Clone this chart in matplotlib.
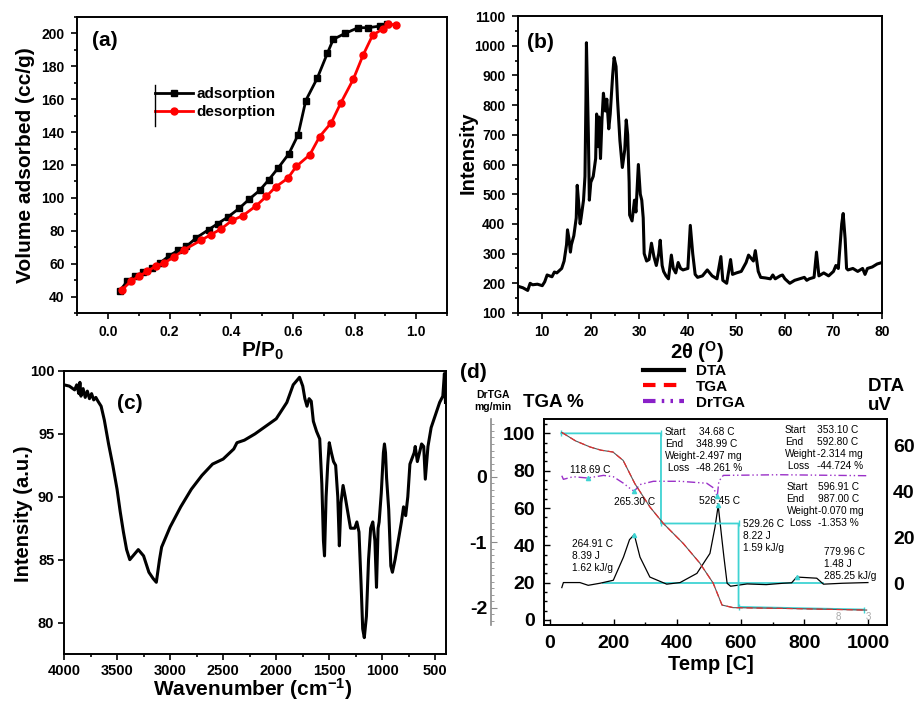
import matplotlib
matplotlib.use('Agg')
import matplotlib.pyplot as plt
from matplotlib.lines import Line2D
from matplotlib.ticker import MultipleLocator

plt.rcParams['font.family'] = ['Liberation Sans', 'DejaVu Sans']
plt.rcParams['font.weight'] = 'bold'
plt.rcParams['axes.labelweight'] = 'bold'
plt.rcParams['axes.unicode_minus'] = False
plt.rcParams['mathtext.fontset'] = 'custom'
plt.rcParams['mathtext.rm'] = 'Liberation Sans:bold'
plt.rcParams['mathtext.default'] = 'rm'
plt.rcParams['axes.linewidth'] = 1.4

# ---- (a) N2 isotherm
ads_p = [0.039, 0.063, 0.088, 0.114, 0.142, 0.169, 0.197, 0.228, 0.255, 0.286, 0.327, 0.356,
         0.389, 0.427, 0.459, 0.492, 0.522, 0.552, 0.587, 0.617, 0.642, 0.679, 0.712, 0.731,
         0.769, 0.812, 0.845, 0.883, 0.904]
ads_v = [43.6, 49.3, 52.3, 54.8, 57.4, 60.4, 64.5, 68.1, 70.5, 75.6, 80.7, 84.3,
         88.3, 93.8, 99.3, 104.5, 111.0, 118.1, 126.8, 138.3, 159.2, 172.7, 187.9, 196.4,
         200.0, 203.5, 203.5, 204.5, 205.5]
des_p = [0.935, 0.910, 0.894, 0.859, 0.828, 0.796, 0.755, 0.725, 0.687, 0.655, 0.611, 0.584,
         0.544, 0.514, 0.481, 0.438, 0.403, 0.367, 0.334, 0.302, 0.248, 0.215, 0.182, 0.155,
         0.128, 0.101, 0.074, 0.047]
des_v = [205.3, 205.5, 203.0, 199.0, 186.9, 172.1, 157.5, 145.8, 137.3, 126.2, 119.1, 112.0,
         106.6, 100.9, 95.2, 89.2, 86.3, 81.1, 77.6, 74.2, 68.5, 64.1, 60.4, 58.4,
         55.4, 52.3, 49.3, 44.2]

# ---- (b) XRD
xrd_2t = [5, 6, 7, 7.5, 8, 9, 10, 10.5, 11, 12, 12.5, 13, 14, 14.5, 15, 15.2, 15.5, 15.8, 16, 16.5,
          17, 17.2, 17.5, 17.8, 18, 18.5, 18.8, 19, 19.1, 19.3, 19.5, 19.7, 20, 20.5, 21, 21.2,
          21.5, 21.7, 22, 22.3, 22.6, 23, 23.3, 23.7, 24, 24.5, 24.8, 25.2, 25.5, 26, 26.5, 27,
          27.3, 27.6, 27.9, 28, 28.5, 29, 29.3, 29.8, 30.2, 30.5, 30.8, 31, 31.5, 32, 32.5, 33,
          33.5, 34, 34.3, 34.7, 35, 35.5, 36, 36.6, 37, 37.5, 38, 38.5, 39, 40, 40.5, 41, 41.5,
          42, 43, 44, 45, 46, 46.8, 47.2, 48, 48.8, 49.2, 50, 51, 52, 52.5, 53, 53.5, 53.9, 54.5,
          55, 56, 57, 57.5, 58, 59, 59.5, 60, 61, 62, 63, 64, 64.5, 65, 66, 66.5, 67, 68, 69, 70,
          70.5, 71, 71.7, 72, 72.4, 72.7, 73, 74, 75, 76, 76.5, 77, 78, 79, 80]
xrd_int = [190, 185, 176, 200, 195, 197, 192, 205, 228, 222, 238, 235, 250, 275, 330, 380, 350, 305,
           330, 360, 420, 530, 470, 400, 420, 480, 560, 820, 1010, 850, 700, 480, 540, 560, 620, 770,
           660, 760, 620, 750, 840, 780, 820, 720, 770, 900, 960, 930, 820, 680, 590, 650,
           750, 700, 540, 430, 410, 480, 440, 600, 500, 480, 420, 300, 275, 280, 335, 290,
           260, 300, 345, 260, 240, 225, 215, 295, 250, 235, 270, 250, 245, 250, 395, 300, 230,
           220, 225, 245, 225, 215, 290, 210, 200, 280, 230, 235, 240, 270, 295, 285, 275, 310, 240,
           220, 218, 215, 228, 215, 225, 228, 215, 200, 210, 215, 220, 210, 215, 220, 305, 225, 235, 225, 240,
           260, 250, 400, 435, 350, 250, 245, 250, 240, 250, 230, 250, 255, 265, 270]

# ---- (c) FTIR
ir_wn = [4000, 3950, 3900, 3880, 3860, 3850, 3840, 3820, 3800, 3780, 3760, 3740, 3720, 3700, 3680,
         3650, 3620, 3580, 3540, 3500, 3470, 3440, 3410, 3380, 3340, 3300, 3250, 3200, 3160, 3130,
         3100, 3080, 3050, 3000, 2900, 2800, 2700, 2600, 2500, 2450, 2400, 2370, 2300, 2200, 2100,
         2000, 1900, 1840, 1780, 1750, 1730, 1710, 1690, 1670, 1650, 1620, 1590, 1570, 1555, 1545,
         1530, 1515, 1500, 1480, 1460, 1440, 1420, 1405, 1390, 1370, 1350, 1320, 1300, 1260, 1240,
         1220, 1200, 1185, 1170, 1150, 1130, 1110, 1090, 1070, 1055, 1040, 1030, 1010, 990, 980,
         970, 960, 940, 920, 905, 880, 850, 820, 800, 780, 760, 740, 700, 690, 670, 650, 630, 610,
         595, 570, 540, 500, 460, 430, 415, 405]
ir_t = [98.9, 98.8, 98.5, 98.9, 98.2, 99.1, 98.0, 98.6, 97.9, 98.4, 97.8, 98.2, 97.7, 97.9, 97.6,
        97.2, 96.1, 94.2, 92.5, 90.6, 88.8, 87.2, 85.8, 85.0, 85.4, 85.8, 85.3, 84.0, 83.5, 83.2,
        85.0, 86.0, 86.6, 87.6, 89.2, 90.6, 91.7, 92.6, 93.0, 93.4, 93.8, 94.3, 94.5, 95.0, 95.6,
        96.2, 97.5, 98.9, 99.5, 98.8, 97.8, 97.2, 97.8, 97.6, 96.0, 95.2, 94.6, 91.0, 86.5, 85.3,
        90.0, 92.5, 94.3, 93.5, 92.8, 92.5, 90.0, 86.1, 89.5, 90.9, 90.0, 88.5, 87.5, 87.5, 88.0,
        87.2, 83.0, 79.5, 78.8, 80.5, 85.0, 87.5, 88.0, 86.5, 82.8, 87.5, 88.0, 90.3, 93.5, 94.2,
        93.5, 91.5, 89.0, 84.5, 84.0, 85.0, 86.5, 88.0, 89.2, 88.5, 90.0, 92.6, 93.5, 94.0, 92.8,
        93.5, 94.2, 94.0, 91.4, 94.0, 95.5, 96.5, 97.5, 98.0, 99.8, 97.5]

# ---- (d) thermal analysis
tga_T = [37, 80, 126, 160, 198, 230, 267, 314, 356, 419, 471, 513, 541, 576, 650, 733, 850, 996]
tga_w = [100.5, 96.0, 92.7, 91.0, 90.0, 85.5, 73.0, 60.6, 51.8, 41.0, 30.5, 19.8, 8.0, 6.6, 6.4, 6.2, 5.8, 5.3]
dta_T = [37, 42, 94, 120, 157, 199, 231, 250, 265, 283, 314, 367, 409, 462, 503, 519, 529, 540,
         547, 557, 568, 620, 680, 733, 760, 776, 839, 860, 920, 1000]
dta_v = [-1.9, 0.3, 0.3, -0.9, 0.0, 1.3, 11.4, 19.0, 21.2, 11.4, 2.7, -0.4, 0.3, 4.3, 13.0, 24.5,
         33.9, 20.0, 11.4, 0.0, -1.3, -0.3, -0.6, 0.0, 0.2, 2.7, 2.2, -0.4, 0.0, 0.3]
drtga_T = [37, 42, 73, 118, 168, 199, 231, 257, 265, 283, 325, 409, 493, 514, 526, 531, 545, 723, 1000]
drtga_v = [0.015, -0.04, 0.0, -0.02, 0.02, 0.0, -0.1, -0.2, -0.22, -0.12, -0.07, -0.07, -0.1, -0.17,
           -0.3, -0.07, 0.02, 0.03, 0.015]
step_T = [35, 349, 349, 593, 593, 987]
step_w = [100, 100, 51.7, 51.7, 7.0, 5.6]
base_T = [168, 859]
base_v = [0, 0]

W, H = 917, 704
fig = plt.figure(figsize=(W / 100, H / 100), dpi=100)


def box(l, t, r, b):
    return [l / W, 1 - b / H, (r - l) / W, (b - t) / H]


def origin_ticks(ax, size, pad):
    ax.tick_params(which='both', direction='out', top=False, right=False,
                   labelsize=size, pad=pad, width=1.2)
    ax.tick_params(which='major', length=4)
    ax.tick_params(which='minor', length=2.5)


# (a)
ax = fig.add_axes(box(77, 17, 447, 313))
ax.plot(ads_p, ads_v, '-s', color='black', lw=2, ms=5, label='adsorption')
ax.plot(des_p, des_v, '-o', color='red', lw=2, ms=5, label='desorption')
ax.set_xlim(-0.1, 1.1)
ax.set_ylim(30, 210)
ax.xaxis.set_minor_locator(MultipleLocator(0.1))
ax.yaxis.set_major_locator(MultipleLocator(20))
ax.yaxis.set_minor_locator(MultipleLocator(10))
ax.set_xticks([0, 0.2, 0.4, 0.6, 0.8, 1.0], ['0.0', '0.2', '0.4', '0.6', '0.8', '1.0'])
origin_ticks(ax, 10, 5)
ax.set_ylabel('Volume adsorbed (cc/g)', fontsize=15)
ax.yaxis.set_label_coords(-0.114, 0.5)
ax.set_xlabel('P/P$_0$', fontsize=15)
ax.xaxis.set_label_coords(0.503, -0.091)
ax.text(0.04, 0.92, '(a)', transform=ax.transAxes, fontsize=15, va='center')
ax.legend(loc='upper left', bbox_to_anchor=(155 / W, 1 - 87 / H), bbox_transform=fig.transFigure,
          frameon=False, fontsize=11, handlelength=2.5, handletextpad=0.2, labelspacing=0.26,
          borderpad=0, borderaxespad=0)
fig.add_artist(Line2D([155 / W, 155 / W], [1 - 85 / H, 1 - 126 / H], color='black', lw=1))

# (b)
ax = fig.add_axes(box(518, 16, 882, 313))
ax.plot(xrd_2t, xrd_int, color='black', lw=2.2)
ax.set_xlim(5, 80)
ax.set_ylim(100, 1100)
ax.xaxis.set_major_locator(MultipleLocator(10))
ax.xaxis.set_minor_locator(MultipleLocator(5))
ax.yaxis.set_major_locator(MultipleLocator(100))
ax.yaxis.set_minor_locator(MultipleLocator(50))
origin_ticks(ax, 10, 5)
ax.set_ylabel('Intensity', fontsize=14.5)
ax.yaxis.set_label_coords(-0.110, 0.54)
ax.set_xlabel('2θ ($^{O}$)', fontsize=14.5)
ax.xaxis.set_label_coords(0.492, -0.088)
ax.text(0.025, 0.911, '(b)', transform=ax.transAxes, fontsize=15, va='center')

# (c)
ax = fig.add_axes(box(64, 371, 446, 654))
ax.plot(ir_wn, ir_t, color='black', lw=2.2)
ax.set_xlim(4000, 400)
ax.set_ylim(77.5, 100)
ax.xaxis.set_major_locator(MultipleLocator(500))
ax.xaxis.set_minor_locator(MultipleLocator(250))
ax.yaxis.set_major_locator(MultipleLocator(5))
origin_ticks(ax, 10.5, 3)
ax.set_ylabel('Intensity (a.u.)', fontsize=14.5)
ax.yaxis.set_label_coords(-0.081, 0.494)
ax.set_xlabel('Wavenumber (cm$^{-1}$)', fontsize=15)
ax.xaxis.set_label_coords(0.493, -0.078)
ax.text(0.139, 0.886, '(c)', transform=ax.transAxes, fontsize=15, va='center')

# (d)
cyan = '#3fd3d3'
ax = fig.add_axes(box(544, 419, 887, 625))
ax_dr = ax.twinx()
ax_dta = ax.twinx()
ax.set_zorder(3)
ax.patch.set_visible(False)

ax.plot(step_T, step_w, color=cyan, lw=1.3)
ax.plot(step_T, step_w, ls='none', marker='|', color=cyan, ms=5)
ax.plot(tga_T, tga_w, color='#555555', lw=0.8)
ax.plot(tga_T, tga_w, color='#e03030', lw=0.9, dashes=(5, 3))
ax_dta.plot(base_T, base_v, color=cyan, lw=1.3)
ax_dta.plot(dta_T, dta_v, color='black', lw=0.9)
ax_dta.plot([265, 529, 777], [21.2, 33.9, 2.7], ls='none', marker='^', ms=3, color=cyan)
ax_dr.plot(drtga_T, drtga_v, color='#9a30c8', lw=1.0, ls=(0, (6, 2, 1, 2, 1, 2)))
ax_dr.plot([118, 265, 526], [-0.02, -0.22, -0.3], ls='none', marker='^', ms=3, color=cyan)

ax.set_xlim(-19, 1060)
ax.set_ylim(-2.7, 107.7)
ax_dr.set_ylim(-2.264, 0.881)
ax_dta.set_ylim(-18.2, 71.6)

ax.xaxis.set_major_locator(MultipleLocator(200))
ax.xaxis.set_minor_locator(MultipleLocator(100))
ax.yaxis.set_major_locator(MultipleLocator(20))
ax.yaxis.set_minor_locator(MultipleLocator(5))
ax.tick_params(which='both', direction='in', top=False, right=False, labelsize=14, width=1)
ax.tick_params(axis='x', pad=7)
ax.tick_params(axis='y', pad=6.5)
ax.tick_params(which='major', length=4)
ax.tick_params(which='minor', length=2)

ax_dr.yaxis.tick_left()
ax_dr.spines['left'].set_position(('outward', 38))
ax_dr.spines['left'].set_color('#8a8a8a')
ax_dr.spines['left'].set_linewidth(1.2)
for s in ['right', 'top', 'bottom']:
    ax_dr.spines[s].set_visible(False)
ax_dr.yaxis.set_major_locator(MultipleLocator(1))
ax_dr.yaxis.set_minor_locator(MultipleLocator(0.1))
ax_dr.tick_params(which='both', direction='in', color='#8a8a8a', labelsize=14, pad=3)
ax_dr.tick_params(which='major', length=4)
ax_dr.tick_params(which='minor', length=2)

for s in ax_dta.spines.values():
    s.set_visible(False)
ax_dta.set_yticks([0, 20, 40, 60])
ax_dta.tick_params(length=0, labelsize=14, pad=4.3)

ax.set_xlabel('Temp [C]', fontsize=14.5)
ax.xaxis.set_label_coords(0.487, -0.146)

fs = 7.3
kw = dict(fontsize=fs, fontweight='normal', linespacing=1.25, va='center', zorder=5)
ax.text(361, 91.0, 'Start\nEnd\nWeight\n Loss', **kw)
ax.text(459, 91.0, ' 34.68 C\n348.99 C\n-2.497 mg\n-48.261 %', **kw)
ax.text(739, 92.1, 'Start\nEnd\nWeight\n Loss', **kw)
ax.text(840, 92.1, '353.10 C\n592.80 C\n-2.314 mg\n-44.724 %', **kw)
ax.text(744, 61.5, 'Start\nEnd\nWeight\n Loss', **kw)
ax.text(843, 61.5, '596.91 C\n987.00 C\n-0.070 mg\n-1.353 %', **kw)
ax.text(606, 45.1, '529.26 C\n8.22 J\n1.59 kJ/g', **kw)
ax.text(68, 34.2, '264.91 C\n8.39 J\n1.62 kJ/g', **kw)
ax.text(862, 29.9, '779.96 C\n1.48 J\n285.25 kJ/g', **kw)
ax.text(63, 80.6, '118.69 C', **kw)
ax.text(201, 63.3, '265.30 C', **kw)
ax.text(469, 63.8, '526.45 C', **kw)
ax.text(907, 1.5, '8', fontsize=7, fontweight='normal', color='#aaaaaa', ha='center', va='center')
ax.text(1001, 1.5, '3', fontsize=7, fontweight='normal', color='#aaaaaa', ha='center', va='center')

fig.text(460 / W, 1 - 372 / H, '(d)', fontsize=15, va='center')
fig.text(493 / W, 1 - 401 / H, 'DrTGA\nmg/min', fontsize=7.5, ha='center', va='center', linespacing=1.2)
fig.text(523 / W, 1 - 403 / H, 'TGA %', fontsize=13.5, va='center')
fig.text(868 / W, 1 - 396 / H, 'DTA\nuV', fontsize=13.5, va='center', linespacing=1.2)

handles = [Line2D([], [], color='black', lw=3),
           Line2D([], [], color='red', lw=3, dashes=(3, 2)),
           Line2D([], [], color='#8a20c8', lw=3, ls=(0, (3, 1.5, 0.6, 1.5, 0.6, 1.5)))]
fig.legend(handles, ['DTA', 'TGA', 'DrTGA'], loc='upper left',
           bbox_to_anchor=(643 / W, 1 - 364 / H), frameon=False, fontsize=11,
           handlelength=2.7, handletextpad=0.77, labelspacing=0.12, borderpad=0, borderaxespad=0)

fig.savefig('out.png', dpi=100)
